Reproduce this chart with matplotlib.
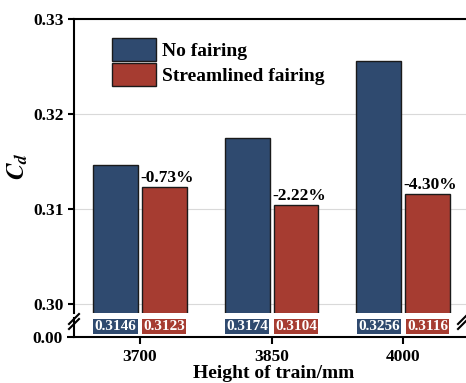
import matplotlib.pyplot as plt
import numpy as np

# data
heights = ['3700', '3850', '4000']
no_fairing = [0.3146, 0.3174, 0.3256]
streamlined = [0.3123, 0.3104, 0.3116]
reduction = ['-0.73%', '-2.22%', '-4.30%']

blue = '#2F4A6F'
red = '#A63C31'

plt.rcParams['font.family'] = 'Liberation Serif'
plt.rcParams['font.weight'] = 'bold'
plt.rcParams['axes.labelweight'] = 'bold'
plt.rcParams['mathtext.fontset'] = 'stix'

W, H = 466, 383
fig = plt.figure(figsize=(W / 100, H / 100), dpi=100)

left = 74 / W
width = 399 / W
ax = fig.add_axes([left, 1 - 313 / H, width, (313 - 19) / H])
axb = fig.add_axes([left, 1 - 337 / H, width, 19 / H])

x = np.arange(len(heights))
bw = 0.34
off = 0.185

ax.bar(x - off, no_fairing, bw, color=blue, edgecolor='#1a1a1a', lw=1.0,
       label='No fairing', zorder=3)
ax.bar(x + off, streamlined, bw, color=red, edgecolor='#1a1a1a', lw=1.0,
       label='Streamlined fairing', zorder=3)

for i in range(len(heights)):
    ax.text(x[i] + off - bw / 2 - 0.01, streamlined[i] + 0.0001, reduction[i],
            ha='left', va='bottom', fontsize=12.5, fontweight='bold')

ax.set_xlim(-0.5, 2.53)
ax.set_ylim(0.2990, 0.33)
ax.set_yticks([0.30, 0.31, 0.32, 0.33])
ax.set_yticklabels(['0.30', '0.31', '0.32', '0.33'])
ax.grid(axis='y', color='#d9d9d9', lw=0.8, zorder=0)
ax.set_xticks([])
ax.spines['bottom'].set_visible(False)
ax.spines['top'].set_linewidth(1.5)
ax.spines['left'].set_linewidth(1.5)
ax.spines['right'].set_linewidth(1.5)
ax.tick_params(axis='y', labelsize=12.5, width=1.5, length=4, direction='out')
ax.set_ylabel('$C_d$', fontsize=18, labelpad=2)

leg = ax.legend(loc='upper left', bbox_to_anchor=(0.075, 0.962), frameon=False,
                fontsize=14, handlelength=2.3, handleheight=1.45,
                labelspacing=0.1, handletextpad=0.3, borderaxespad=0)

# lower axis with value labels
axb.set_xlim(-0.5, 2.53)
axb.set_ylim(0, 1)
axb.set_yticks([0])
axb.set_yticklabels(['0.00'])
axb.set_xticks(x)
axb.set_xticklabels(heights)
axb.spines['top'].set_visible(False)
axb.spines['bottom'].set_linewidth(1.5)
axb.spines['left'].set_linewidth(1.5)
axb.spines['right'].set_linewidth(1.5)
axb.tick_params(axis='both', labelsize=12.5, width=1.5, length=5, direction='out')
axb.set_xlabel('Height of train/mm', fontsize=14, fontweight='bold', labelpad=0)

for i in range(len(heights)):
    axb.text(x[i] - off, 0.55, '%.4f' % no_fairing[i], ha='center', va='center',
             color='white', fontsize=11, fontweight='bold',
             bbox=dict(boxstyle='square,pad=0.08', fc=blue, ec='none'))
    axb.text(x[i] + off, 0.55, '%.4f' % streamlined[i], ha='center', va='center',
             color='white', fontsize=11, fontweight='bold',
             bbox=dict(boxstyle='square,pad=0.08', fc=red, ec='none'))

# break marks
for xb in (74, 463):
    for dy in (0, 5):
        y0 = 1 - (324 + dy) / H
        y1 = 1 - (314 + dy) / H
        fig.add_artist(plt.Line2D([(xb - 5) / W, (xb + 5) / W], [y0, y1],
                                  color='black', lw=1.5))

fig.savefig('out.png', dpi=100)
